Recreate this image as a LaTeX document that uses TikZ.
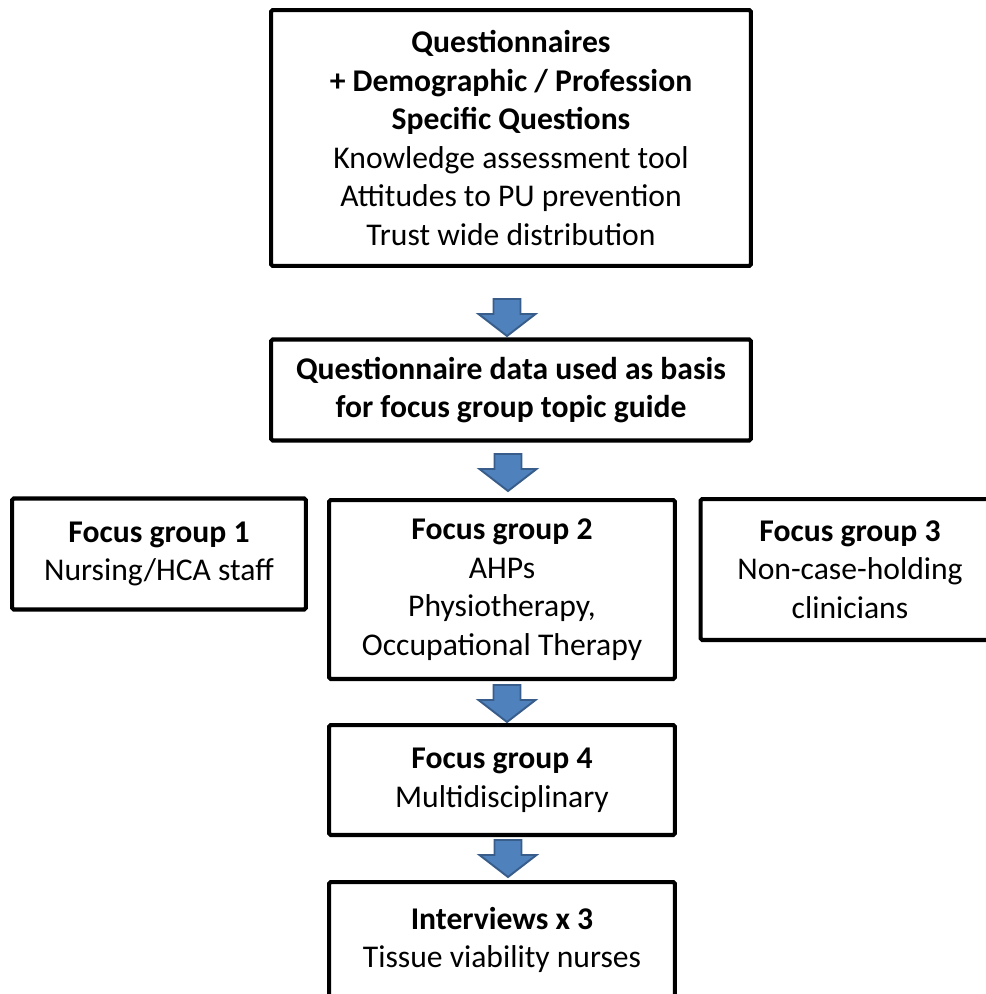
\documentclass[tikz,border=0pt]{standalone}
\usepackage{fontspec}
\setmainfont{Carlito}
\definecolor{arrowblue}{RGB}{79,129,189}
\definecolor{arrowedge}{RGB}{56,93,138}
\usetikzlibrary{positioning,calc}

\begin{document}
\begin{tikzpicture}[x=0.02cm, y=-0.02cm,
    stagebox/.style={draw=black, line width=2.3pt, rounded corners=1pt, fill=white, align=center,
      font=\fontsize{18}{22}\selectfont, inner sep=2pt},
    downarrow/.pic={\draw[line width=1.1pt, draw=arrowedge, fill=arrowblue, line join=miter]
      (-13.5,0) -- (13.5,0) -- (13.5,15) -- (28.5,15) -- (0,37) -- (-28.5,15) -- (-13.5,15) -- cycle;}]
  \useasboundingbox (0,0) rectangle (986,994);
  \clip (0,0) rectangle (986,994);

  %% Stage boxes
  \node[stagebox, minimum width=9.6cm, minimum height=5.12cm]  (quest) at (511,138)
    {\textbf{Questionnaires}\\\textbf{+ Demographic / Profession}\\\textbf{Specific Questions}\\Knowledge assessment tool\\Attitudes to PU prevention\\Trust wide distribution};
  \node[stagebox, minimum width=9.6cm, minimum height=2.02cm]  (basis) at (511,390)
    {\textbf{Questionnaire data used as basis}\\\textbf{for focus group topic guide}};
  \node[stagebox, minimum width=5.88cm, minimum height=2.22cm] (fgone) at (159,554)
    {\textbf{Focus group 1}\\Nursing/HCA staff};
  \node[stagebox, minimum width=6.92cm, minimum height=3.58cm] (fgtwo) at (502,589.5)
    {\textbf{Focus group 2}\\AHPs\\Physiotherapy,\\Occupational Therapy};
  \node[stagebox, minimum width=5.98cm, minimum height=2.82cm] (fgthree) at (850,569.5)
    {\textbf{Focus group 3}\\Non-case-holding\\clinicians};
  \node[stagebox, minimum width=6.92cm, minimum height=2.2cm]  (fgfour) at (502,780)
    {\textbf{Focus group 4}\\Multidisciplinary};
  \node[stagebox, minimum width=6.92cm, minimum height=2.32cm] (interv) at (502,940)
    {\textbf{Interviews x 3}\\Tissue viability nurses};

  %% Block arrows
  \pic at (507,299) {downarrow};
  \pic at (508,454) {downarrow};
  \pic at (507,685) {downarrow};
  \pic at (508,840) {downarrow};
\end{tikzpicture}
\end{document}
